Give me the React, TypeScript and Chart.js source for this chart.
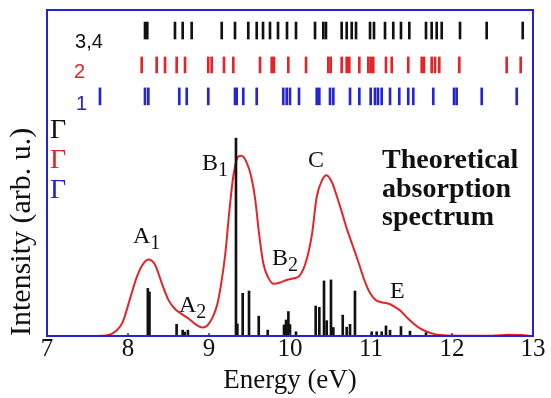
import React, { useEffect, useRef } from "react";
import { Chart, registerables } from "chart.js";

Chart.register(...registerables);

// Red theoretical absorption curve (energy in eV, intensity arb. u.)
const curveEnergy = [
  7.0, 7.6, 7.75, 7.85, 7.93, 8.02, 8.1, 8.17, 8.25, 8.33, 8.42, 8.5, 8.58, 8.66, 8.75, 8.84, 8.92, 8.98,
  9.05, 9.1, 9.15, 9.2, 9.25, 9.3, 9.36, 9.4, 9.46, 9.52, 9.57, 9.62, 9.67, 9.73, 9.8, 9.88, 9.96,
  10.06, 10.12, 10.2, 10.27, 10.33, 10.4, 10.45, 10.52, 10.58, 10.64, 10.7, 10.77, 10.84, 10.92, 10.99,
  11.06, 11.14, 11.23, 11.3, 11.37, 11.45, 11.52, 11.6, 11.69, 11.8, 11.9, 12.1, 12.5, 12.7, 12.85, 13.0,
];
const curveIntensity = [
  0, 0, 0.2, 1.5, 4, 11, 17.5, 21.5, 23.5, 22, 16, 11, 8.3, 6.8, 5.3, 3.5, 2.6, 3.2,
  6, 9.5, 16, 25, 38, 49, 55, 55.3, 53.5, 49, 42, 31, 22.3, 18, 16, 16.4, 17.2,
  17.8, 18.5, 23, 31, 42.7, 48, 49.3, 47, 42.7, 38, 33, 28, 23, 17, 13.1,
  11, 10.3, 9.8, 8.8, 7.6, 5.5, 3.9, 2.4, 1.3, 0.5, 0.2, 0.1, 0.1, 0.4, 0.3, 0,
];

// Black oscillator-strength sticks
const stickEnergy = [
  8.245, 8.265, 8.6, 8.675, 8.7, 8.74, 9.333, 9.35, 9.416, 9.494, 9.614, 9.725,
  9.926, 9.951, 9.98, 10.0, 10.074, 10.317, 10.362, 10.42, 10.453, 10.506, 10.535,
  10.651, 10.7, 10.741, 10.802, 11.009, 11.07, 11.132, 11.185, 11.235, 11.37, 11.481, 11.679,
];
const stickHeight = [
  14.6, 13.5, 3.6, 1.8, 1.2, 1.8, 60.7, 3.7, 13.1, 13.8, 6.1, 1.8,
  3.4, 4.9, 7.5, 3.5, 1.3, 9.2, 8.8, 16.9, 4.7, 17.2, 2.6,
  6.4, 2.7, 3.6, 13.8, 1.3, 1.3, 1.3, 3.1, 1.8, 2.9, 1.5, 1.0,
];

// Transition energies for the three rows of ticks
const row34Energy = [
  8.21, 8.238, 8.58, 8.675, 8.786, 9.157, 9.321, 9.485, 9.589, 9.667, 9.753, 9.852, 9.963, 10.074,
  10.309, 10.411, 10.444, 10.638, 10.7, 10.762, 10.815, 10.988, 11.037, 11.173, 11.275, 11.37, 11.473,
  11.679, 11.749, 11.811, 11.873, 12.099, 12.428, 12.873,
];
const row2Energy = [
  8.169, 8.354, 8.457, 8.601, 8.704, 8.991, 9.033, 9.185, 9.3, 9.63, 9.774, 9.802, 9.979, 10.198,
  10.473, 10.502, 10.638, 10.7, 10.732, 10.856, 10.967, 10.996, 11.028, 11.185, 11.256, 11.46,
  11.626, 11.654, 11.749, 11.79, 11.843, 12.09, 12.675, 12.848,
];
const row1Energy = [
  7.654, 8.21, 8.251, 8.633, 8.725, 8.991, 9.321, 9.342, 9.423, 9.589, 9.917, 9.959, 10.0, 10.111,
  10.33, 10.362, 10.494, 10.535, 10.741, 10.856, 10.996, 11.049, 11.086, 11.132, 11.235, 11.349,
  11.46, 11.522, 11.769, 12.025, 12.058, 12.367, 12.799,
];
const row34Band = [91.1, 96.3];
const row2Band = [80.7, 85.6];
const row1Band = [70.9, 76.1];

const xTicks = [7, 8, 9, 10, 11, 12, 13];

// Peak labels
const peakText = ["A", "A", "B", "B", "C", "E"];
const peakSub = ["1", "2", "1", "2", "", ""];
const peakE = [8.062, 8.63, 8.914, 9.778, 10.222, 11.235];
const peakI = [28.5, 7.4, 50.9, 21.8, 51.8, 11.7];

const noteLines = ["Theoretical", "absorption", "spectrum"];
const noteE = 11.136;
const noteI = [51.5, 42.6, 34.0];

const rowLabels = ["3,4", "2", "1"];
const rowLabelE = [7.346, 7.333, 7.358];
const rowLabelI = [88.3, 79.1, 69.3];
const gammaE = 7.037;
const gammaI = [60.7, 51.5, 42.3];

const BLACK = "#111111";
const RED = "#e5242a";
const BLUE = "#2424d2";
const SERIF = '"Liberation Serif", "Times New Roman", serif';
const SANS = '"Liberation Sans", Arial, sans-serif';
const rowColors = [BLACK, RED, BLUE];

const overlayPlugin = {
  id: "overlay",
  afterDatasetsDraw(chart: any) {
    const { ctx, chartArea, scales } = chart;
    const x = scales.x;
    const y = scales.y;
    ctx.save();
    // frame
    ctx.strokeStyle = BLUE;
    ctx.lineWidth = 2;
    ctx.strokeRect(chartArea.left, chartArea.top, chartArea.right - chartArea.left, chartArea.bottom - chartArea.top);
    // inward ticks
    ctx.lineWidth = 1.5;
    xTicks.forEach((v) => {
      const px = x.getPixelForValue(v);
      ctx.beginPath();
      ctx.moveTo(px, chartArea.bottom);
      ctx.lineTo(px, chartArea.bottom - 3);
      ctx.stroke();
    });
    ctx.textAlign = "left";
    ctx.textBaseline = "alphabetic";
    // peak labels
    ctx.fillStyle = BLACK;
    peakText.forEach((t, i) => {
      const px = x.getPixelForValue(peakE[i]);
      const py = y.getPixelForValue(peakI[i]);
      ctx.font = `24px ${SERIF}`;
      ctx.fillText(t, px, py);
      const w = ctx.measureText(t).width;
      if (peakSub[i]) {
        ctx.font = `20px ${SERIF}`;
        ctx.fillText(peakSub[i], px + w, py + 6);
      }
    });
    // note
    ctx.font = `bold 28px ${SERIF}`;
    noteLines.forEach((t, i) => {
      ctx.fillText(t, x.getPixelForValue(noteE), y.getPixelForValue(noteI[i]));
    });
    // row labels
    ctx.font = `20px ${SANS}`;
    rowLabels.forEach((t, i) => {
      ctx.fillStyle = rowColors[i];
      ctx.fillText(t, x.getPixelForValue(rowLabelE[i]), y.getPixelForValue(rowLabelI[i]));
    });
    // gammas
    ctx.font = `28px ${SERIF}`;
    gammaI.forEach((v, i) => {
      ctx.fillStyle = rowColors[i];
      ctx.fillText("\u0393", x.getPixelForValue(gammaE), y.getPixelForValue(v));
    });
    ctx.restore();
  },
};

export default function App() {
  const ref = useRef<HTMLCanvasElement | null>(null);
  useEffect(() => {
    if (!ref.current) return;
    const rowSet = (energies: number[], band: number[], color: string) => ({
      type: "bar" as const,
      data: energies.map((e) => ({ x: e, y: [band[0], band[1]] })),
      backgroundColor: color,
      barThickness: 2,
      grouped: false,
    });
    const chart = new Chart(ref.current, {
      type: "line",
      data: {
        datasets: [
          {
            type: "bar",
            data: stickEnergy.map((e, i) => ({ x: e, y: [0, stickHeight[i]] })),
            backgroundColor: BLACK,
            barThickness: 2,
            grouped: false,
          } as any,
          {
            type: "line",
            data: curveEnergy.map((e, i) => ({ x: e, y: curveIntensity[i] })),
            borderColor: RED,
            borderWidth: 2,
            pointRadius: 0,
            cubicInterpolationMode: "monotone",
            fill: false,
          } as any,
          rowSet(row34Energy, row34Band, BLACK) as any,
          rowSet(row2Energy, row2Band, RED) as any,
          rowSet(row1Energy, row1Band, BLUE) as any,
        ],
      },
      options: {
        responsive: false,
        animation: false,
        devicePixelRatio: 1,
        layout: { padding: { top: 10, right: 18, left: 0, bottom: 0 } },
        plugins: { legend: { display: false }, tooltip: { enabled: false } },
        scales: {
          x: {
            type: "linear",
            min: 7,
            max: 13,
            offset: false,
            grid: { display: false, drawTicks: false },
            border: { display: false },
            ticks: {
              stepSize: 1,
              autoSkip: false,
              maxRotation: 0,
              color: BLACK,
              padding: 1,
              font: { family: SERIF, size: 25, lineHeight: 1 },
            },
            title: {
              display: true,
              text: "Energy (eV)",
              color: BLACK,
              font: { family: SERIF, size: 27 },
              padding: { top: 0, bottom: 1 },
            },
            afterFit(s: any) {
              s.height = 62;
              s.paddingLeft = 0;
              s.paddingRight = 0;
            },
          },
          y: {
            type: "linear",
            min: 0,
            max: 100,
            grid: { display: false, drawTicks: false },
            border: { display: false },
            ticks: { display: false },
            title: {
              display: true,
              text: "Intensity (arb. u.)",
              align: "start",
              color: BLACK,
              font: { family: SERIF, size: 30 },
              padding: { top: 4, bottom: 0 },
            },
            afterFit(s: any) {
              s.width = 47;
              s.paddingTop = 0;
              s.paddingBottom = 0;
            },
          },
        },
      } as any,
      plugins: [overlayPlugin],
    });
    return () => chart.destroy();
  }, []);
  return (
    <div style={{ position: "absolute", left: 0, top: 0, width: 551, height: 398, background: "#fff" }}>
      <canvas ref={ref} width={551} height={398} style={{ width: 551, height: 398, display: "block" }} />
    </div>
  );
}
